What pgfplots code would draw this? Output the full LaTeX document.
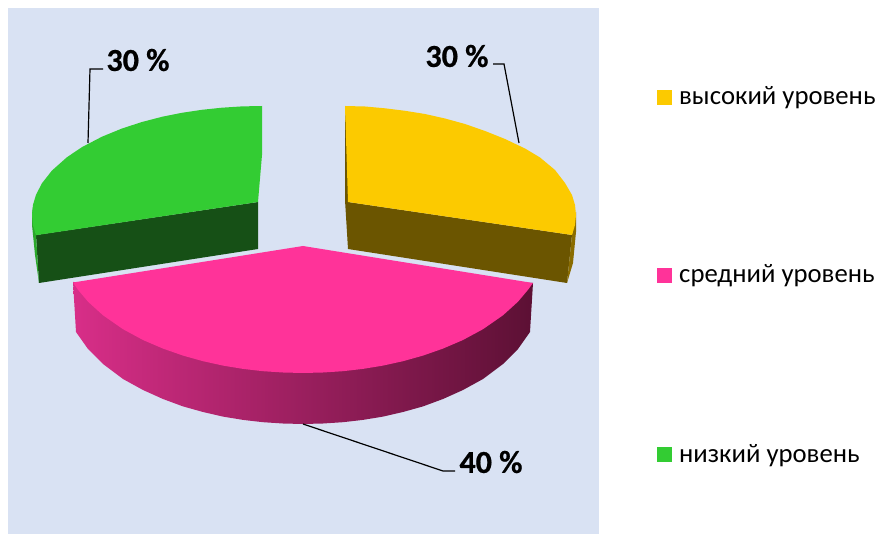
\documentclass[border=0pt]{standalone}
\usepackage{fontspec}
\setmainfont{Carlito}[BoldFeatures={FakeBold=0.6}]
\usepackage{pgfplots}
\pgfplotsset{compat=1.18}
\definecolor{panel}{HTML}{D9E2F3}
\definecolor{gtop}{HTML}{33CC33}
\definecolor{gface}{HTML}{165016}
\definecolor{gwall}{HTML}{2BA82B}
\definecolor{ytop}{HTML}{FCCA00}
\definecolor{yface}{HTML}{6B5500}
\definecolor{ywall}{HTML}{8A6C00}
\definecolor{ptop}{HTML}{FF3399}
\definecolor{pl}{HTML}{D82E88}
\definecolor{pm}{HTML}{8E1E5A}
\definecolor{pr}{HTML}{5C1034}
\begin{document}
\begin{tikzpicture}
\useasboundingbox (0,0) rectangle (878pt,534pt);
\begin{axis}[at={(0,0)},anchor=south west,scale only axis,width=878pt,height=534pt,
  xmin=0,xmax=878,ymin=0,ymax=534,y dir=reverse,hide axis,clip=false]
% panel
\addplot[fill=panel,draw=none] coordinates {(8,8)(599,8)(599,534)(8,534)} --cycle;
% green slice (30 %)
\addplot[fill=gface,draw=none] coordinates {(36,235)(258,202)(258,249)(39,283)} --cycle;
\addplot[fill=gwall,draw=none] coordinates {(32,207)(32,225)(35,255)(39,283)(36,235)} --cycle;
\addplot[fill=gtop,draw=none] coordinates {(262,106)(242,106.4)(222,107.7)(202,109.8)(182,112.8)(162,116.8)(142,122)(122,128.5)(102,136.7)(82,147.1)(67,157.2)(52,170.5)(42,183.2)(36,194.8)(33,204.8)(32,215)(33,225.2)(36,235.2)(258,202)(262,155)} --cycle;
% yellow slice (30 %)
\addplot[fill=yface,draw=none] coordinates {(348,202)(572,235)(567,283)(348,249)} --cycle;
\addplot[fill=ywall,draw=none] coordinates {(576,212)(576,232)(573,263)(567,283)(572,235)} --cycle;
\addplot[fill=yface,draw=none] coordinates {(345,106)(345,200)(348,249)(350,202)} --cycle;
\addplot[fill=ytop,draw=none] coordinates {(345,106)(365,106.5)(385,108.3)(405,110.8)(425,114)(445,118.5)(465,124)(485,131)(505,139)(525,148.5)(540,157.5)(555,170)(565,183)(572,195)(575,205)(576,215)(575,225)(572,235)(348,202)} --cycle;
% pink slice (40 %): shaded wall
\addplot[left color=pl,middle color=pm,right color=pr,draw=none] coordinates {(73,282)(76,332)(88,349)(103,364)(123,379)(143,390)(163,399)(183,406.4)(203,412)(223,416.6)(243,419.9)(263,422.2)(283,423.5)(303,424)(323,423.5)(343,422.2)(363,419.9)(383,416.6)(403,412)(423,406.4)(443,399)(463,390)(483,379)(503,364)(518,349)(530,332)(533,283)} --cycle;
% pink top
\addplot[fill=ptop,draw=none] coordinates {(73,282.5)(78,289.8)(88,301.7)(103,315.3)(123,329.2)(143,340)(163,348.6)(183,355.6)(203,361.2)(223,365.6)(243,368.9)(263,371.2)(283,372.5)(303,373)(323,372.5)(343,371.2)(363,368.9)(383,365.6)(403,361.2)(423,355.6)(443,348.6)(463,340)(483,329.2)(503,315.3)(518,301.7)(528,289.8)(533,283)(303,246)} --cycle;
% leaders
\addplot[black,line width=1.2pt] coordinates {(88,143)(90,69)(103,69)};
\addplot[black,line width=1.2pt] coordinates {(519,143)(504,64)(493,64)};
\addplot[black,line width=1.2pt] coordinates {(303,424)(443,471)(455,471)};
% legend squares
\addplot[fill=ytop,draw=none] coordinates {(657,90)(672,90)(672,105)(657,105)} --cycle;
\addplot[fill=ptop,draw=none] coordinates {(657,268)(672,268)(672,283)(657,283)} --cycle;
\addplot[fill=gtop,draw=none] coordinates {(657,447)(672,447)(672,462)(657,462)} --cycle;
% texts
\node[font=\fontsize{32pt}{33pt}\selectfont\bfseries,anchor=center] at (axis cs:138,60) {30 \%};
\node[font=\fontsize{32pt}{33pt}\selectfont\bfseries,anchor=center] at (axis cs:457,56) {30 \%};
\node[font=\fontsize{32pt}{33pt}\selectfont\bfseries,anchor=center] at (axis cs:491,462) {40 \%};
\node[font=\fontsize{26.7pt}{29pt}\selectfont,anchor=base west,inner sep=0pt] at (axis cs:679,105) {высокий уровень};
\node[font=\fontsize{26.7pt}{29pt}\selectfont,anchor=base west,inner sep=0pt] at (axis cs:679,283) {средний уровень};
\node[font=\fontsize{26.7pt}{29pt}\selectfont,anchor=base west,inner sep=0pt] at (axis cs:679,462) {низкий уровень};
\end{axis}
\end{tikzpicture}
\end{document}
